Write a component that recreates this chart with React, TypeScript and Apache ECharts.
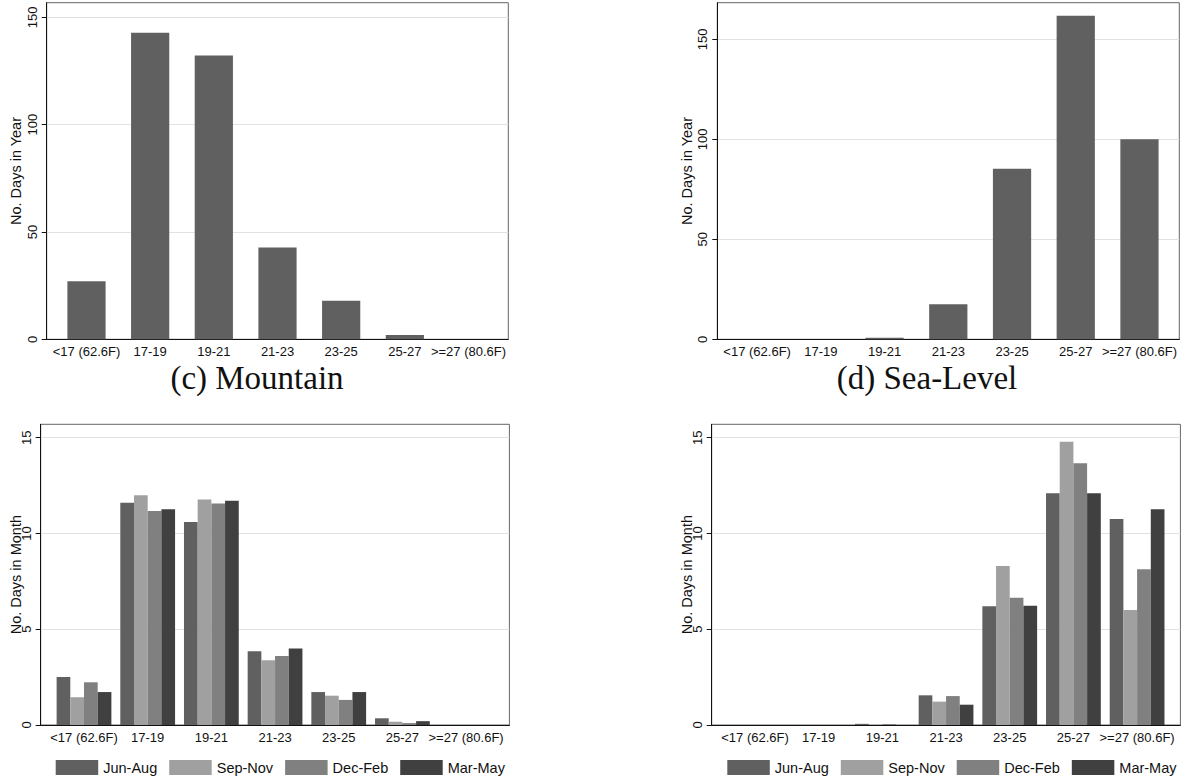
import React, { useEffect, useRef } from "react";
import * as echarts from "echarts";

// Temperature bins (degrees C) shared by every panel
const bins = ["<17 (62.6F)", "17-19", "19-21", "21-23", "23-25", "25-27", ">=27 (80.6F)"];

// Days per year in each bin
const mountainYear = [27, 142.75, 132.25, 42.75, 18, 2, 0];
const seaLevelYear = [0, 0, 0.75, 17.5, 85.25, 161.75, 100];

// Days per month in each bin, by season
const seasons = ["Jun-Aug", "Sep-Nov", "Dec-Feb", "Mar-May"];
const seasonColors = ["#606060", "#a0a0a0", "#808080", "#404040"];

const mountainJunAug = [2.5, 11.6, 10.6, 3.85, 1.72, 0.35, 0];
const mountainSepNov = [1.45, 12.0, 11.77, 3.38, 1.53, 0.17, 0];
const mountainDecFeb = [2.23, 11.17, 11.56, 3.6, 1.31, 0.1, 0];
const mountainMarMay = [1.72, 11.26, 11.71, 4.0, 1.72, 0.2, 0];

const seaJunAug = [0, 0, 0.06, 1.55, 6.2, 12.1, 10.76];
const seaSepNov = [0, 0, 0, 1.22, 8.3, 14.79, 6.0];
const seaDecFeb = [0, 0, 0.05, 1.51, 6.65, 13.67, 8.13];
const seaMarMay = [0, 0, 0, 1.06, 6.23, 12.1, 11.26];

const yearTicks = [0, 50, 100, 150];
const monthTicks = [0, 5, 10, 15];

const SANS = '"Liberation Sans", Arial, Helvetica, sans-serif';
const SERIF = '"Liberation Serif", "Times New Roman", serif';

const toPoints = (values: number[]) => values.map((v, i) => [i, v]);

function xAxis(gridIndex: number, pad: number) {
  return {
    type: "value",
    gridIndex,
    min: -0.5 - pad,
    max: bins.length - 0.5 + pad,
    axisLine: { show: true, onZero: false, lineStyle: { color: "#111", width: 1 } },
    axisTick: { show: false },
    splitLine: { show: false },
    axisLabel: {
      customValues: bins.map((_, i) => i),
      formatter: (v: number) => bins[Math.round(v)] ?? "",
      margin: 6,
      fontSize: 13,
      fontFamily: SANS,
      color: "#111",
      hideOverlap: false,
    },
  };
}

function yAxis(gridIndex: number, max: number, ticks: number[], name: string, nameGap: number, nameMoveOverlap: boolean) {
  return {
    type: "value",
    gridIndex,
    min: 0,
    max,
    interval: ticks[1],
    name,
    nameLocation: "middle",
    nameGap,
    nameMoveOverlap,
    nameTextStyle: { fontSize: 14.5, fontFamily: SANS, color: "#111" },
    axisLine: { show: true, onZero: false, lineStyle: { color: "#111", width: 1 } },
    axisTick: { show: true, length: 5, customValues: ticks, lineStyle: { color: "#111" } },
    axisLabel: {
      customValues: ticks,
      rotate: 90,
      margin: 8,
      fontSize: 13,
      fontFamily: SANS,
      color: "#111",
    },
    splitLine: { show: true, lineStyle: { color: "#e2e2e2", width: 1 } },
  };
}

function seasonSeries(axisIndex: number, data: number[][]) {
  return data.map((values, k) => ({
    type: "bar",
    name: seasons[k],
    xAxisIndex: axisIndex,
    yAxisIndex: axisIndex,
    data: toPoints(values),
    itemStyle: { color: seasonColors[k] },
    barGap: "0%",
    barCategoryGap: "14%",
  }));
}

export default function App() {
  const ref = useRef<HTMLDivElement>(null);

  useEffect(() => {
    if (!ref.current) return;
    const chart = echarts.init(ref.current, undefined, { renderer: "svg" });

    const gridBase = { show: true, borderColor: "#666", borderWidth: 1, backgroundColor: "#fff", containLabel: false };

    const legendBase = {
      data: seasons,
      top: 755,
      itemWidth: 42.5,
      itemHeight: 15,
      itemGap: 12,
      icon: "rect",
      selectedMode: false,
      textStyle: { fontSize: 14.5, fontFamily: SANS, color: "#111" },
    };

    chart.setOption({
      animation: false,
      backgroundColor: "#fff",
      grid: [
        { ...gridBase, left: 46.7, top: 2.7, width: 461.6, height: 336.6 },
        { ...gridBase, left: 717.3, top: 2.7, width: 462, height: 336.6 },
        { ...gridBase, left: 40.7, top: 424.3, width: 468.7, height: 300.7 },
        { ...gridBase, left: 711.7, top: 424.3, width: 468.7, height: 300.7 },
      ],
      xAxis: [xAxis(0, 0.125), xAxis(1, 0.125), xAxis(2, 0.18), xAxis(3, 0.18)],
      yAxis: [
        yAxis(0, 156.8, yearTicks, "No. Days in Year", 23, true),
        yAxis(1, 168.3, yearTicks, "No. Days in Year", 23, true),
        yAxis(2, 15.7, monthTicks, "No. Days in Month", 17, false),
        yAxis(3, 15.7, monthTicks, "No. Days in Month", 17, false),
      ],
      legend: [
        { ...legendBase, left: 50.7 },
        { ...legendBase, left: 722.3 },
      ],
      graphic: [
        {
          type: "text",
          x: 257,
          y: 378,
          style: { text: "(c) Mountain", fontSize: 33, fontFamily: SERIF, fill: "#111", align: "center", verticalAlign: "middle" },
        },
        {
          type: "text",
          x: 927,
          y: 378,
          style: { text: "(d) Sea-Level", fontSize: 33, fontFamily: SERIF, fill: "#111", align: "center", verticalAlign: "middle" },
        },
      ],
      series: [
        {
          type: "bar",
          name: "Mountain",
          xAxisIndex: 0,
          yAxisIndex: 0,
          data: toPoints(mountainYear),
          barWidth: "60%",
          itemStyle: { color: "#606060" },
        },
        {
          type: "bar",
          name: "Sea-Level",
          xAxisIndex: 1,
          yAxisIndex: 1,
          data: toPoints(seaLevelYear),
          barWidth: "60%",
          itemStyle: { color: "#606060" },
        },
        ...seasonSeries(2, [mountainJunAug, mountainSepNov, mountainDecFeb, mountainMarMay]),
        ...seasonSeries(3, [seaJunAug, seaSepNov, seaDecFeb, seaMarMay]),
      ],
    });

    return () => chart.dispose();
  }, []);

  return (
    <div
      ref={ref}
      style={{ position: "fixed", left: 0, top: 0, width: 1185, height: 780, background: "#fff" }}
    />
  );
}
